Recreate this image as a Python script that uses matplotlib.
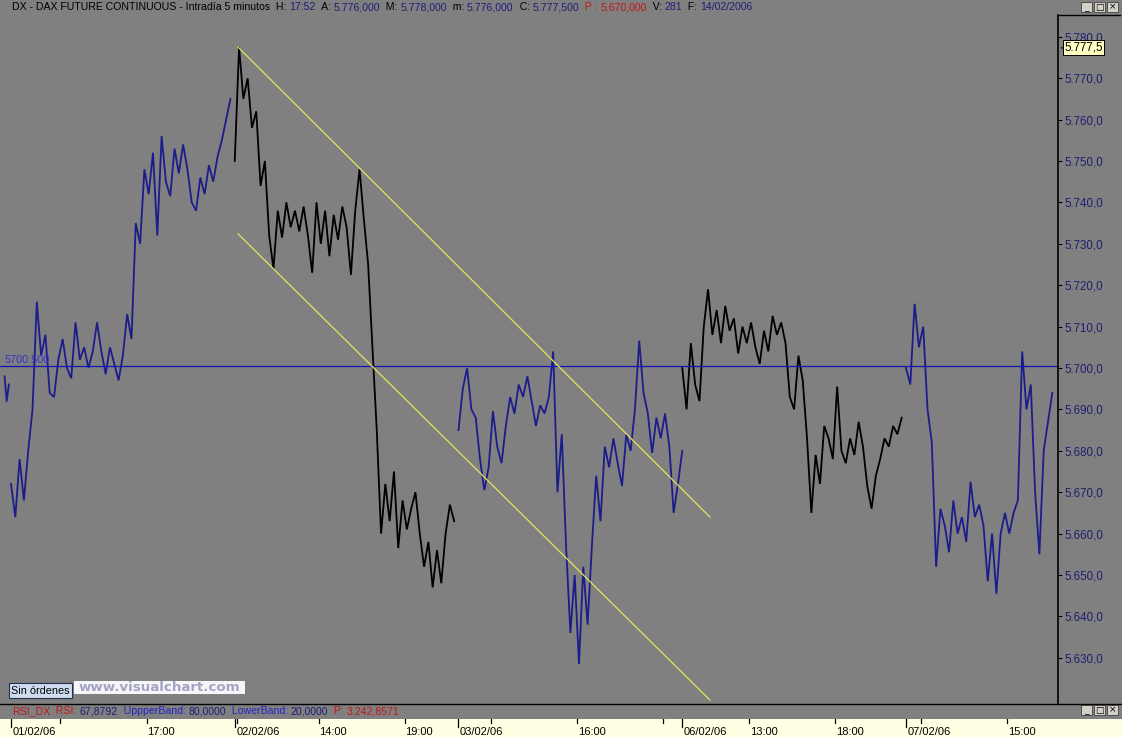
import numpy as np
import matplotlib
matplotlib.use("Agg")
import matplotlib.pyplot as plt
import matplotlib.transforms as mtrans
from matplotlib.patches import Rectangle

# ---------------- data (DAX future, 5-minute bars, sampled every 3 bars) ----------------
days = ["01/02/06", "02/02/06", "03/02/06", "06/02/06", "07/02/06"]
day_colors = ["#1c1c8c", "#000000", "#1c1c8c", "#000000", "#1c1c8c"]

prev_tail = [5698, 5692, 5696]          # last bars of 31/01

p_0102 = [5672, 5664, 5678, 5668, 5680, 5690, 5716, 5703, 5708, 5694, 5693, 5702, 5707,
          5700, 5697.5, 5711, 5702, 5705, 5700, 5704, 5711, 5704, 5698.5, 5705, 5701, 5697,
          5703, 5713, 5707, 5735, 5730, 5748, 5742, 5752, 5732, 5756, 5745, 5741.5, 5753,
          5747, 5754, 5748, 5740, 5738, 5746, 5742, 5749, 5745, 5751, 5755, 5760, 5765]
p_0202 = [5750, 5777.5, 5765, 5770, 5758, 5762, 5744, 5750, 5732, 5724, 5738, 5731.5, 5740,
          5734, 5738, 5733, 5739, 5732, 5723, 5740, 5730, 5738, 5727, 5737, 5731, 5739, 5734,
          5722.5, 5738, 5748, 5736, 5725, 5705, 5685, 5660, 5672, 5663, 5675, 5656.5, 5668,
          5661, 5666, 5670, 5660, 5652, 5658, 5647, 5656, 5648, 5660, 5667, 5663]
p_0302 = [5685, 5695, 5700, 5690, 5688, 5678, 5670.5, 5676, 5689.6, 5681, 5677, 5686, 5693,
          5689, 5696, 5693, 5698, 5692, 5686, 5691, 5689, 5693, 5704, 5670, 5684, 5657, 5636,
          5650, 5628.5, 5652, 5638, 5657, 5674, 5663, 5681, 5676, 5683, 5677, 5671.5, 5684,
          5680, 5690, 5706.6, 5694, 5689, 5679.5, 5688, 5683, 5689, 5681, 5665, 5672, 5680]
p_0602 = [5700, 5690, 5706, 5696, 5692, 5710, 5719, 5708, 5714, 5706, 5715, 5709, 5712,
          5703.5, 5710, 5706, 5711, 5705, 5701, 5709, 5704, 5712.6, 5708, 5711, 5706, 5693,
          5690, 5703, 5697, 5683, 5665, 5679, 5672, 5686, 5683, 5678, 5695.5, 5680, 5677,
          5683, 5679, 5687, 5681, 5671.5, 5666, 5674, 5678, 5683, 5681, 5686, 5684, 5688]
p_0702 = [5700, 5696, 5715.5, 5705, 5710, 5690, 5682, 5652, 5666, 5662, 5655.5, 5668, 5660,
          5664, 5658, 5672.5, 5664, 5667, 5662, 5648.5, 5660, 5645.5, 5660, 5665, 5660, 5665,
          5668, 5704, 5690, 5696, 5670, 5655, 5680, 5687, 5694]
day_prices = [p_0102, p_0202, p_0302, p_0602, p_0702]

ref_level = 5700.5
last_price = 5777.5
y_ticks = list(range(5630, 5781, 10))

# trend channel anchors: (bar index, price)
chan_bars = [158.3, 487.3]
chan_upper = [5777.5, 5664.0]
chan_lower = [5732.4, 5619.8]

hour_labels = [(0, 17, 0, "17:00"), (1, 14, 0, "14:00"), (1, 19, 0, "19:00"),
               (2, 16, 0, "16:00"), (3, 13, 0, "13:00"), (3, 18, 0, "18:00"),
               (4, 15, 0, "15:00")]
minor_times = [(0, 12, 0), (1, 9, 15), (2, 11, 0), (2, 21, 0), (4, 10, 0)]

title_parts = [("DX - DAX FUTURE CONTINUOUS - Intradía 5 minutos  H: ", "k"), ("17:52", "N"),
               ("  A: ", "k"), ("5.776,000", "N"), ("  M: ", "k"), ("5.778,000", "N"),
               ("  m: ", "k"), ("5.776,000", "N"), ("  C: ", "k"), ("5.777,500", "N"),
               ("  P : ", "R"), ("5.670,000", "R"), ("  V: ", "k"), ("281", "N"),
               ("  F: ", "k"), ("14/02/2006", "N")]
rsi_parts = [("RSI_DX", "R"), ("  RSI: ", "R"), ("67,8792", "N"), ("  UppperBand: ", "B"),
             ("80,0000", "N"), ("  LowerBand: ", "B"), ("20,0000", "N"), ("  P: ", "R"),
             ("3.242,8571", "R")]

# ---------------- layout ----------------
W, H = 1122, 737
BARS_PER_DAY = 156
STEP = 3
PX_PER_BAR = 223.75 / BARS_PER_DAY
X0_PX = 11.0
PLOT_L, PLOT_T, PLOT_R, PLOT_B = 0, 15, 1058, 703
PX_PER_PT = 4.14
Y5700_PX = 368.0

GRAY = "#808080"
NAVY = "#1e1e6e"
COLS = {"k": "#000000", "N": "#1e1e78", "R": "#c01818", "B": "#2424c8"}
FONT = "Liberation Sans"

fig = plt.figure(figsize=(W / 100, H / 100), dpi=100)
fig.patch.set_facecolor(GRAY)

def fx(px):
    return px / W

def fy(py):
    return 1 - py / H

ax = fig.add_axes([fx(PLOT_L), fy(PLOT_B), (PLOT_R - PLOT_L) / W, (PLOT_B - PLOT_T) / H])
ax.set_facecolor(GRAY)
ax.set_xlim((PLOT_L - X0_PX) / PX_PER_BAR, (PLOT_R - X0_PX) / PX_PER_BAR)
ax.set_ylim(5700 - (PLOT_B - Y5700_PX) / PX_PER_PT, 5700 + (Y5700_PX - PLOT_T) / PX_PER_PT)
for s in ["left", "top", "bottom"]:
    ax.spines[s].set_visible(False)
ax.spines["right"].set_color("black")
ax.spines["right"].set_linewidth(1.2)
ax.set_xticks([])
ax.yaxis.tick_right()
ax.set_yticks(y_ticks)
ax.set_yticklabels([f"{v:,.1f}".replace(",", "X").replace(".", ",").replace("X", ".")
                    for v in y_ticks])
ax.tick_params(axis="y", direction="out", length=3, width=0.8, color="black",
               labelcolor=NAVY, labelsize=8.3, pad=1.5)
for t in ax.get_yticklabels():
    t.set_family(FONT)

# price lines
ax.plot(-4.5 + 1.5 * np.arange(len(prev_tail)), prev_tail, color=day_colors[0], lw=1.3)
for d, (vals, col) in enumerate(zip(day_prices, day_colors)):
    x = d * BARS_PER_DAY + STEP * np.arange(len(vals))
    ax.plot(x, vals, color=col, lw=1.3, solid_joinstyle="miter")

# reference level
ax.axhline(ref_level, color="#1414b4", lw=0.9)
ax.annotate(f"{ref_level:.3f}", xy=(0, ref_level), xycoords=("axes fraction", "data"),
            xytext=(3, 1), textcoords="offset points", va="bottom", ha="left",
            color="#3434c8", fontsize=7.8, family=FONT)

# channel
ax.plot(chan_bars, chan_upper, color="#e4e45a", lw=0.9)
ax.plot(chan_bars, chan_lower, color="#e4e45a", lw=0.9)

# last price tag
bt = mtrans.blended_transform_factory(ax.transAxes, ax.transData)
ax.text(1 + 6.5 / (PLOT_R - PLOT_L), last_price,
        f"{last_price:,.1f}".replace(",", "X").replace(".", ",").replace("X", "."),
        transform=bt, va="center", ha="left", fontsize=8.3, family=FONT, color="black",
        bbox=dict(boxstyle="square,pad=0.12", fc="#ffffc4", ec="black", lw=0.7),
        clip_on=False, zorder=6)
ax.text(1 + 1.5 / (PLOT_R - PLOT_L), last_price, "<", transform=bt, va="center", ha="left",
        fontsize=5, color="black", clip_on=False)

# ---------------- bottom time strip ----------------
sx = fig.add_axes([0, 0, 1, (H - 719) / H])
sx.set_facecolor("#ffffe4")
sx.set_xlim((0 - X0_PX) / PX_PER_BAR, (W - X0_PX) / PX_PER_BAR)
sx.set_ylim(0, 1)
sx.axis("off")
sx.add_patch(Rectangle((0, 0), 1, 1, transform=sx.transAxes, fc="#ffffe4", ec="none"))
stb = mtrans.blended_transform_factory(sx.transData, sx.transAxes)
for d, lab in enumerate(days):
    xb = d * BARS_PER_DAY
    sx.plot([xb, xb], [1, 1 - 8 / 18], color="black", lw=0.9, transform=stb)
    sx.text(xb + 1.0, 0.3, lab, transform=stb, fontsize=8, family=FONT, va="center", ha="left")
for d, h, m, lab in hour_labels:
    xb = d * BARS_PER_DAY + ((h - 9) * 60 + m) / 5 - 1.5
    sx.plot([xb, xb], [1, 1 - 4 / 18], color="black", lw=0.9, transform=stb)
    sx.text(xb + 0.6, 0.3, lab, transform=stb, fontsize=8, family=FONT, va="center", ha="left")
for d, h, m in minor_times:
    xb = d * BARS_PER_DAY + ((h - 9) * 60 + m) / 5 - 1.5
    sx.plot([xb, xb], [1, 1 - 4 / 18], color="black", lw=0.9, transform=stb)

# ---------------- overlay (chrome) ----------------
ov = fig.add_axes([0, 0, 1, 1], zorder=5)
ov.set_xlim(0, W)
ov.set_ylim(H, 0)
ov.axis("off")
ov.plot([0, W], [PLOT_B + 0.5, PLOT_B + 0.5], color="black", lw=1.0)
ov.plot([PLOT_R, W - 2], [PLOT_T, PLOT_T], color="black", lw=1.0)

def buttons(ytop):
    for i, g in enumerate(["_", "□", "×"]):
        x0 = 1081 + i * 13
        ov.add_patch(Rectangle((x0, ytop), 11, 10, fc="#d4d0c8", ec="#404040", lw=0.6))
        ov.text(x0 + 5.5, ytop + 5.2, g, ha="center", va="center", fontsize=6.5,
                color="black", family="DejaVu Sans")

buttons(2)
buttons(705)

ov.add_patch(Rectangle((9, 683), 63, 15, fc="#cfdcf0", ec="#243050", lw=0.8))
ov.text(40.5, 690.8, "Sin órdenes", ha="center", va="center", fontsize=7.8, family=FONT,
        color="black")
ov.add_patch(Rectangle((74, 681), 171, 13, fc="#f6f6f8", ec="none"))
ov.text(159.5, 687.8, "www.visualchart.com", ha="center", va="center", fontsize=9.6,
        family="DejaVu Sans", weight="bold", color="#a2a4c4")

renderer = fig.canvas.get_renderer()

def rich(x_px, y_px, parts, size):
    x = x_px
    for s, c in parts:
        t = fig.text(fx(x), fy(y_px), s, color=COLS[c], fontsize=size, family=FONT,
                     va="center", ha="left", zorder=10)
        bb = t.get_window_extent(renderer=renderer)
        x += bb.width

rich(12, 7.5, title_parts, 7.6)
rich(12, 711, rsi_parts, 7.6)

fig.savefig("out.png", dpi=100, facecolor=fig.get_facecolor())
